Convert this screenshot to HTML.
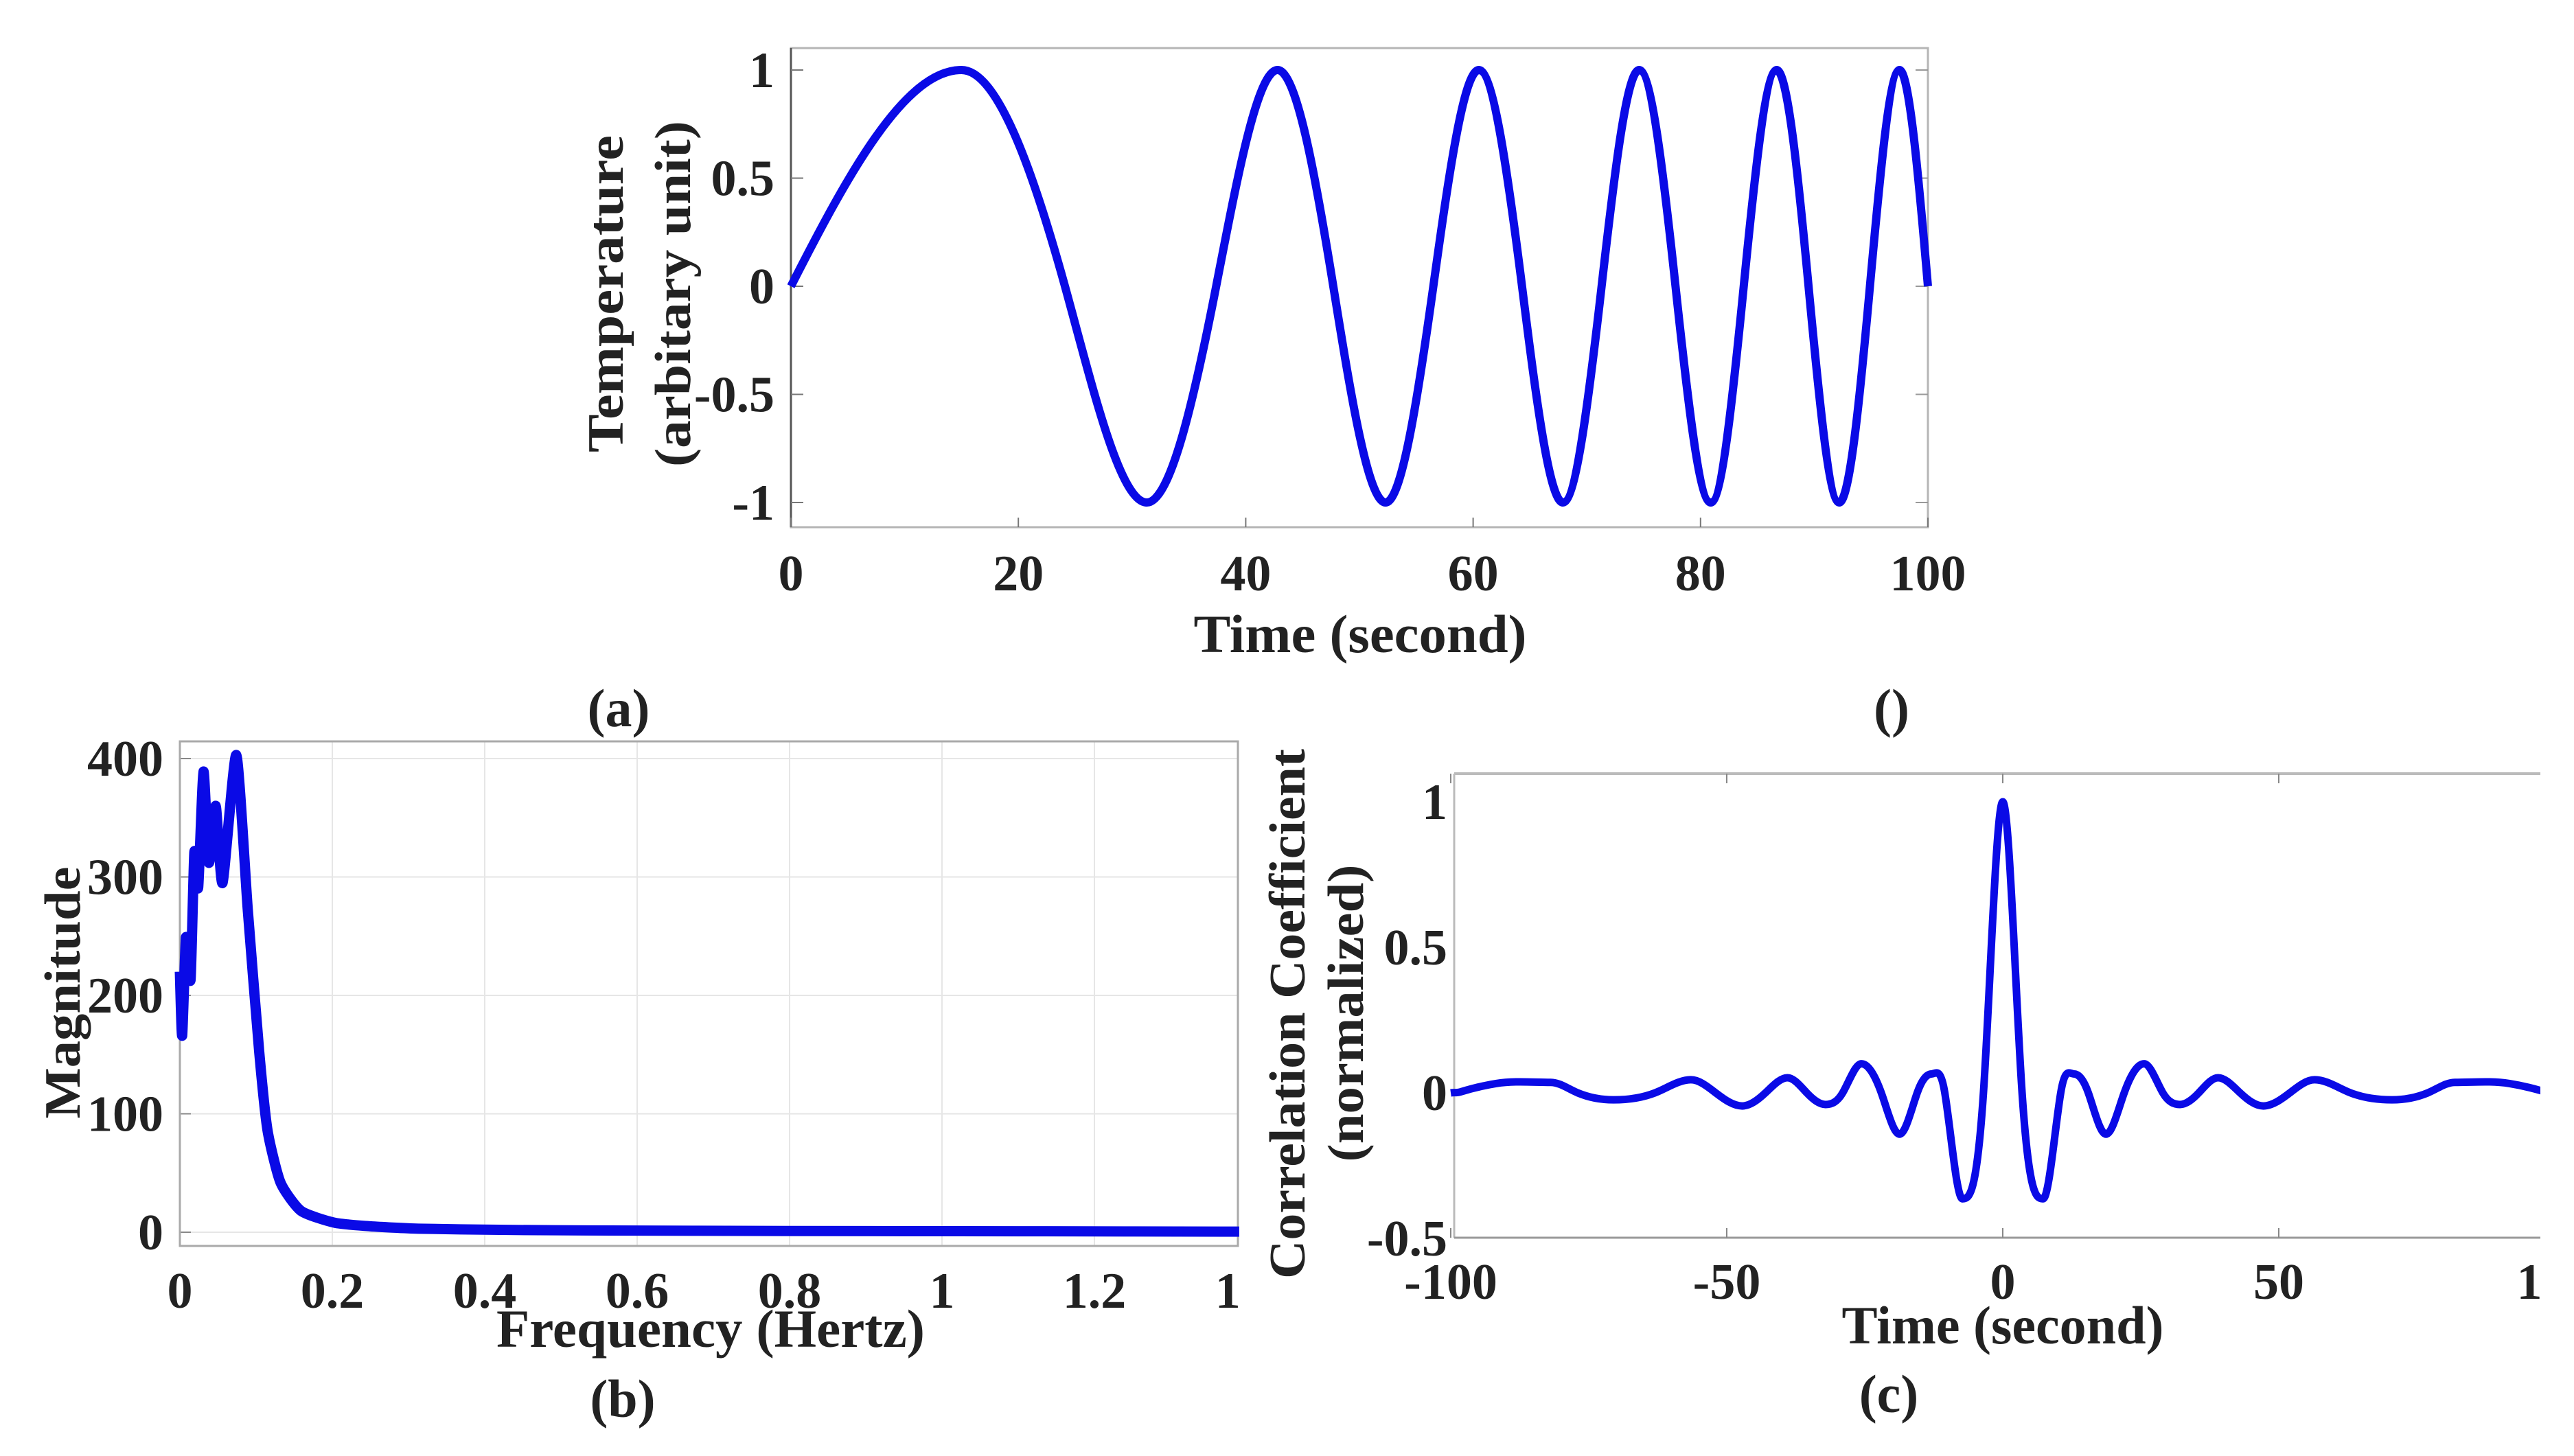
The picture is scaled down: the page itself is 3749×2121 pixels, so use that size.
<!DOCTYPE html>
<html><head><meta charset="utf-8">
<style>
html,body{margin:0;padding:0;background:#fff;}
svg{display:block;}
text{font-family:"Liberation Serif","DejaVu Serif",serif;font-weight:bold;fill:#222;}
</style></head>
<body>
<svg id="fig" width="3749" height="2121" viewBox="0 0 3749 2121" xmlns="http://www.w3.org/2000/svg">
<defs><clipPath id="clipC"><rect x="0" y="0" width="3700" height="2121"/></clipPath></defs>
</svg>
<script>
// ---- Panel (a) data: chirp signal extrema & zero crossings ----
const aTimes = [0,15.0,24.1,31.3,37.4,42.8,47.7,52.3,56.5,60.5,64.3,67.9,71.3,74.6,77.8,80.9,83.8,86.7,89.5,92.2,94.9,97.5,100];
const aValues = [0,1,0,-1,0,1,0,-1,0,1,0,-1,0,1,0,-1,0,1,0,-1,0,1,0];
const aXTicks = [0,20,40,60,80,100];
const aYTicks = [-1,-0.5,0,0.5,1];
const aYTickLabels = ["-1","-0.5","0","0.5","1"];
// ---- Panel (b) data: FFT magnitude ----
const bFreq = [0,0.003,0.008,0.014,0.019,0.024,0.031,0.038,0.047,0.056,0.074,0.089,0.104,0.115,0.132,0.159,0.203,0.25,0.313,0.42,0.533,0.8,1.1,1.39];
const bMag = [220,166,249,213,321,291,389,312,360,295,403,273,153,86,42,18,8,5,3,2,1.5,1,0.8,0.5];
const bXTicks = [0,0.2,0.4,0.6,0.8,1,1.2,1.4];
const bXTickLabels = ["0","0.2","0.4","0.6","0.8","1","1.2","1.4"];
const bYTicks = [0,100,200,300,400];
// ---- Panel (c) data: autocorrelation ----
const cLags = [-100,-98.3,-91.8,-81.9,-77,-70.5,-63,-56.5,-52,-47.2,-43,-39,-35.5,-32.1,-29,-25.6,-22,-18.7,-15.5,-12.9,-10.5,-7.3,-3.5,0,3.5,7.3,10.5,12.9,15.5,18.7,22,25.6,29,32.1,35.5,39,43,47.2,52,56.5,63,70.5,77,81.9,91.8,98.3,100];
const cValues = [0,0.003,0.032,0.036,0,-0.024,0,0.045,0,-0.045,0,0.052,0,-0.04,0,0.10,0,-0.142,0,0.065,0,-0.364,0,1,0,-0.364,0,0.065,0,-0.142,0,0.10,0,-0.04,0,0.052,0,-0.045,0,0.045,0,-0.024,0,0.036,0.032,0.003,0];
const cXTicks = [-100,-50,0,50,100];
const cYTicks = [-0.5,0,0.5,1];
const cYTickLabels = ["-0.5","0","0.5","1"];

const NS = "http://www.w3.org/2000/svg";
const svg = document.getElementById('fig');
function el(tag, attrs, parent){ const e=document.createElementNS(NS,tag); for(const k in attrs) e.setAttribute(k,attrs[k]); (parent||svg).appendChild(e); return e; }
function txt(s, attrs, parent){ const e=el('text',attrs,parent); e.textContent=s; return e; }

// Catmull-Rom smoothing path (tension k multiplies tangents)
function smoothPath(pts, k){
  let d = `M${pts[0][0]},${pts[0][1]}`;
  for(let i=0;i<pts.length-1;i++){
    const p0=pts[Math.max(0,i-1)], p1=pts[i], p2=pts[i+1], p3=pts[Math.min(pts.length-1,i+2)];
    const c1=[p1[0]+(p2[0]-p0[0])/6*k, p1[1]+(p2[1]-p0[1])/6*k];
    const c2=[p2[0]-(p3[0]-p1[0])/6*k, p2[1]-(p3[1]-p1[1])/6*k];
    d += ` C${c1[0]},${c1[1]} ${c2[0]},${c2[1]} ${p2[0]},${p2[1]}`;
  }
  return d;
}
// Hermite path through points: zero slope at local extrema, scaled finite-difference slope elsewhere
function hermitePath(pts, k){
  const n=pts.length, m=[];
  for(let i=0;i<n;i++){
    const a=pts[Math.max(0,i-1)], b=pts[Math.min(n-1,i+1)];
    const prev = i>0 ? pts[i][1]-pts[i-1][1] : null;
    const next = i<n-1 ? pts[i+1][1]-pts[i][1] : null;
    if(prev!==null && next!==null && prev*next<=0) m.push(0);
    else m.push(k*(b[1]-a[1])/(b[0]-a[0]));
  }
  let d=`M${pts[0][0]},${pts[0][1]}`;
  for(let i=0;i<n-1;i++){
    const p1=pts[i], p2=pts[i+1], dx=(p2[0]-p1[0])/3;
    d+=` C${p1[0]+dx},${p1[1]+m[i]*dx} ${p2[0]-dx},${p2[1]-m[i+1]*dx} ${p2[0]},${p2[1]}`;
  }
  return d;
}

// ================= Panel (a) =================
{
  const L=1152,R=2808,T=70,B=768;
  const xA = t => L + (t-0)/(100-0)*(R-L);
  const yA = v => 417 - v*315;
  const g = el('g',{});
  
  
  const box = el('rect',{x:L,y:T,width:R-L,height:B-T,fill:'none',stroke:'#b5b5b5','stroke-width':3},g);
  
  
  el('line',{x1:L,y1:T,x2:L,y2:B,stroke:'#555','stroke-width':3},g);
  aXTicks.forEach((t,i)=>{
    el('line',{x1:xA(t),y1:B,x2:xA(t),y2:B-14,stroke:'#777','stroke-width':2},g);
    const e=txt(String(t),{x:xA(t),y:860,'font-size':74,'text-anchor':'middle'},g);
    
    
  });
  aYTicks.forEach((v,i)=>{
    el('line',{x1:L,y1:yA(v),x2:L+18,y2:yA(v),stroke:'#777','stroke-width':2},g);
    el('line',{x1:R,y1:yA(v),x2:R-18,y2:yA(v),stroke:'#999','stroke-width':2},g);
    const e=txt(aYTickLabels[i],{x:1128,y:yA(v)+25,'font-size':74,'text-anchor':'end'},g);
    
    
  });
  const pts = aTimes.map((t,i)=>[xA(t),yA(aValues[i])]);
  const p = el('path',{d:hermitePath(pts,1.55),fill:'none',stroke:'#0a0ae6','stroke-width':12,'stroke-linejoin':'round'},g);
  
  
  const xl=txt('Time (second)',{x:1981,y:950,'font-size':78,'text-anchor':'middle',textLength:485,lengthAdjust:'spacingAndGlyphs'},g);
  
  
  const y1=txt('Temperature',{x:0,y:0,'font-size':74,'text-anchor':'middle',textLength:462,lengthAdjust:'spacingAndGlyphs',transform:'translate(907,428) rotate(-90)'},g);
  
  
  const y2=txt('(arbitary unit)',{x:0,y:0,'font-size':74,'text-anchor':'middle',textLength:504,lengthAdjust:'spacingAndGlyphs',transform:'translate(1005,428) rotate(-90)'},g);
  
  
  const ca=txt('(a)',{x:901,y:1058,'font-size':78,'text-anchor':'middle'},g);
  
  
  const ce=txt('()',{x:2755,y:1058,'font-size':78,'text-anchor':'middle'},g);
  
  
}

// ================= Panel (b) =================
{
  const L=262,R=1803,T=1080,B=1815;
  const xB = f => L + f/0.2*222;
  const yB = m => 1795 - m/400*690;
  const g = el('g',{});
  
  
  bXTicks.forEach((f,i)=>{
    if(xB(f)<R-5) el('line',{x1:xB(f),y1:T,x2:xB(f),y2:B,stroke:'#e6e6e6','stroke-width':2},g);
    const e=txt(bXTickLabels[i],{x:xB(f),y:1905,'font-size':74,'text-anchor':'middle'},g);
    
    
  });
  bYTicks.forEach(m=>{
    el('line',{x1:L,y1:yB(m),x2:R,y2:yB(m),stroke:'#e6e6e6','stroke-width':2},g);
    el('line',{x1:L,y1:yB(m),x2:L+16,y2:yB(m),stroke:'#888','stroke-width':2},g);
    const e=txt(String(m),{x:238,y:yB(m)+25,'font-size':74,'text-anchor':'end'},g);
    
    
  });
  // clip tick label "1.4" at the plot edge
  el('rect',{x:R+3,y:1830,width:80,height:100,fill:'#fff'},g);
  const box=el('rect',{x:L,y:T,width:R-L,height:B-T,fill:'none',stroke:'#aaa','stroke-width':3},g);
  
  
  const pts = bFreq.map((f,i)=>[xB(f),yB(bMag[i])]);
  const p=el('path',{d:smoothPath(pts,0.6),fill:'none',stroke:'#0a0ae6','stroke-width':15,'stroke-linejoin':'round'},g);
  
  
  const xl=txt('Frequency (Hertz)',{x:1035,y:1962,'font-size':78,'text-anchor':'middle',textLength:624,lengthAdjust:'spacingAndGlyphs'},g);
  
  
  const yl=txt('Magnitude',{x:0,y:0,'font-size':74,'text-anchor':'middle',textLength:367,lengthAdjust:'spacingAndGlyphs',transform:'translate(116,1446) rotate(-90)'},g);
  
  
  const cb=txt('(b)',{x:907,y:2064,'font-size':78,'text-anchor':'middle'},g);
  
  
}

// ================= Panel (c) =================
{
  const L=2118,R=3700,T=1127,B=1803;
  const xC = t => 2917 + t/50*402;
  const yC = v => 1592 - v*424;
  const g = el('g',{'clip-path':'url(#clipC)'});
  
  
  el('line',{x1:L,y1:T,x2:R,y2:T,stroke:'#bbb','stroke-width':4},g);
  el('line',{x1:L,y1:T,x2:L,y2:B,stroke:'#bbb','stroke-width':3},g);
  el('line',{x1:L,y1:B,x2:R,y2:B,stroke:'#999','stroke-width':3},g);
  cXTicks.forEach(t=>{
    el('line',{x1:xC(t),y1:B,x2:xC(t),y2:B-14,stroke:'#888','stroke-width':2},g);
    el('line',{x1:xC(t),y1:T,x2:xC(t),y2:T+14,stroke:'#888','stroke-width':2},g);
    const e=txt(String(t),{x:xC(t),y:1892,'font-size':74,'text-anchor':'middle'},g);
    
    
  });
  cYTicks.forEach((v,i)=>{
    const e=txt(cYTickLabels[i],{x:2108,y:yC(v)+25,'font-size':74,'text-anchor':'end'},g);
    
    
  });
  const pts = cLags.map((t,i)=>[xC(t),yC(cValues[i])]);
  const p=el('path',{d:hermitePath(pts,1.5),fill:'none',stroke:'#0a0ae6','stroke-width':11,'stroke-linejoin':'round'},g);
  
  
  const xl=txt('Time (second)',{x:2917,y:1957,'font-size':78,'text-anchor':'middle',textLength:469,lengthAdjust:'spacingAndGlyphs'},g);
  
  
  const y1=txt('Correlation Coefficient',{x:0,y:0,'font-size':74,'text-anchor':'middle',textLength:772,lengthAdjust:'spacingAndGlyphs',transform:'translate(1900,1477) rotate(-90)'},g);
  
  
  const y2=txt('(normalized)',{x:0,y:0,'font-size':74,'text-anchor':'middle',textLength:433,lengthAdjust:'spacingAndGlyphs',transform:'translate(1985,1476) rotate(-90)'},g);
  
  
  const cc=txt('(c)',{x:2751,y:2057,'font-size':78,'text-anchor':'middle'},g);
  
  
}
</script>
</body></html>
